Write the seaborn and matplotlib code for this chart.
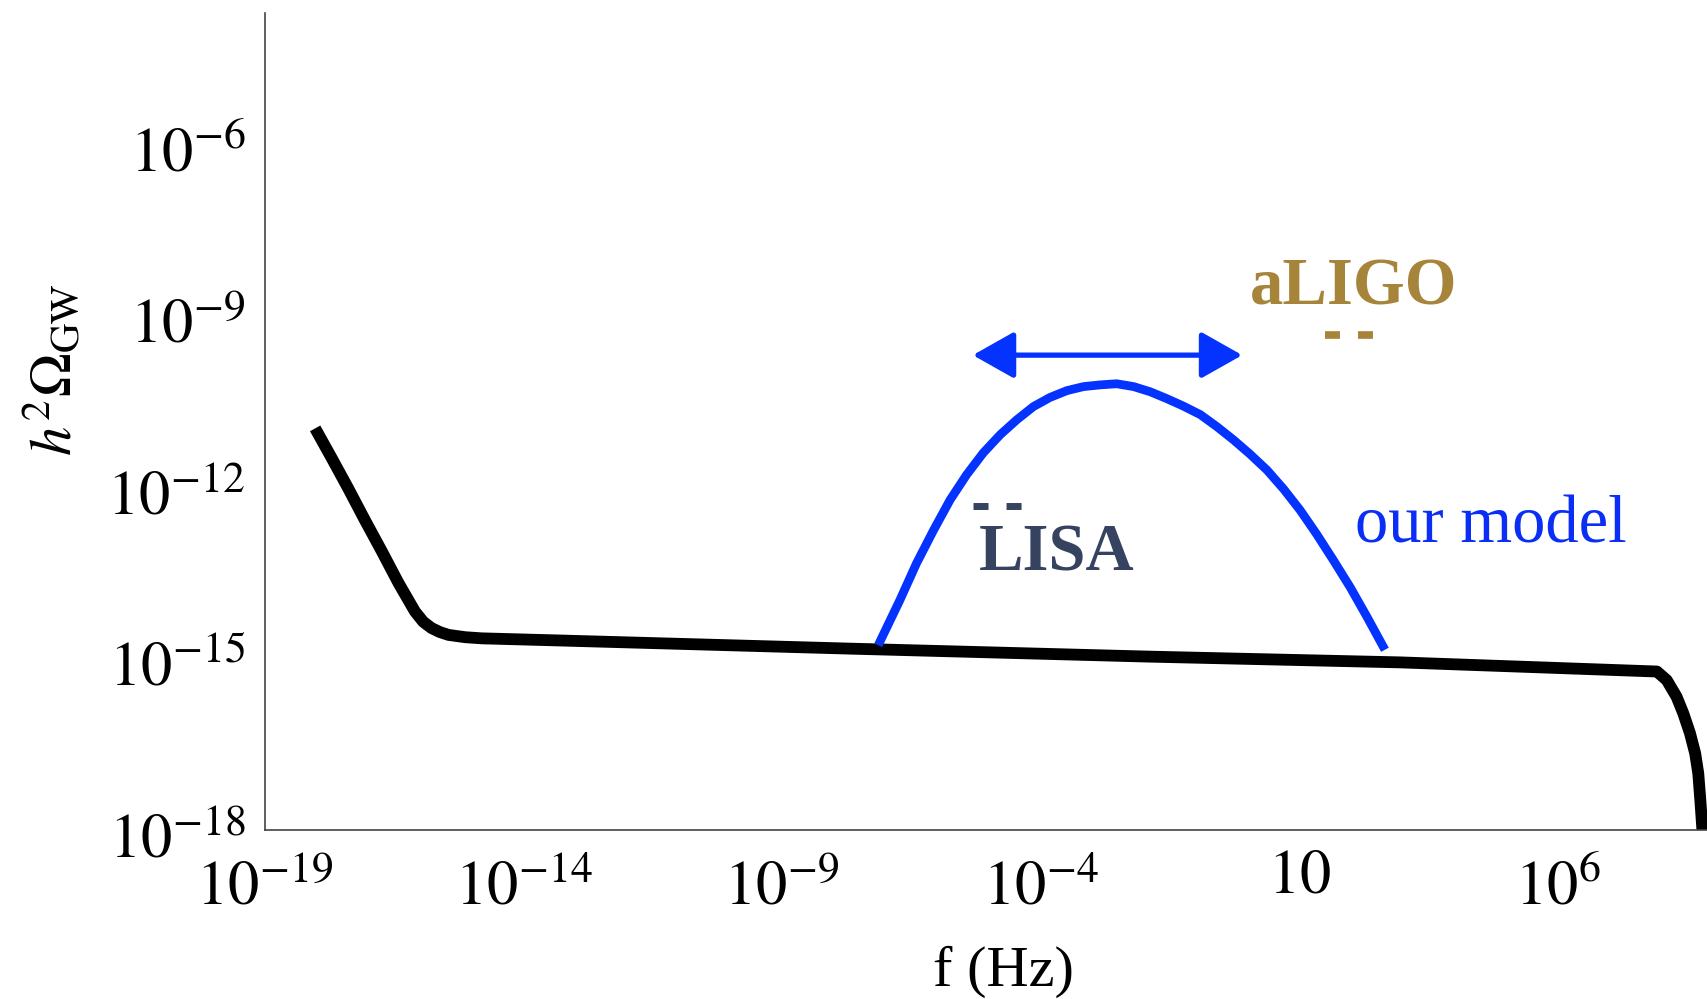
import numpy as np
import pandas as pd
import matplotlib
matplotlib.use("Agg")
import matplotlib.pyplot as plt
import matplotlib.transforms as mtransforms
import seaborn as sns
from matplotlib.ticker import FixedLocator, FixedFormatter, NullFormatter

# ---- data (log10 values) ----
bg_logf = [-18.03, -17.71, -17.39, -17.07, -16.74, -16.42, -16.10, -15.94, -15.78,
           -15.62, -15.45, -15.13, -14.81, -13.20, -7.68, -1.88, 2.95, 7.92,
           8.11, 8.30, 8.43, 8.56, 8.66, 8.72, 8.76, 8.80, 8.83]
bg_logomega = [-10.98, -11.50, -12.03, -12.58, -13.13, -13.68, -14.18, -14.36, -14.47,
               -14.54, -14.59, -14.63, -14.65, -14.69, -14.83, -14.97, -15.07, -15.23,
               -15.38, -15.67, -15.96, -16.31, -16.66, -17.01, -17.48, -18.0, -18.3]

model_logf = [-7.14, -6.72, -6.40, -6.07, -5.75, -5.43, -5.11, -4.78, -4.46, -4.14,
              -3.82, -3.49, -3.17, -2.85, -2.53, -2.20, -1.88, -1.56, -1.24, -0.91,
              -0.59, -0.27, 0.05, 0.38, 0.70, 1.02, 1.34, 1.66, 1.99, 2.31, 2.66]
model_logomega = [-14.77, -13.98, -13.34, -12.76, -12.23, -11.79, -11.41, -11.09, -10.83,
                  -10.60, -10.44, -10.32, -10.25, -10.22, -10.20, -10.25, -10.34, -10.46,
                  -10.59, -10.74, -10.95, -11.18, -11.43, -11.71, -12.04, -12.41, -12.83,
                  -13.28, -13.76, -14.27, -14.85]

x_major_exp = [-19, -14, -9, -4, 1, 6]
x_tick_labels = [r"$10^{-19}$", r"$10^{-14}$", r"$10^{-9}$", r"$10^{-4}$", r"$10$", r"$10^{6}$"]
y_major_exp = [-18, -15, -12, -9, -6]
y_tick_labels = [r"$10^{-18}$", r"$10^{-15}$", r"$10^{-12}$", r"$10^{-9}$", r"$10^{-6}$"]

# ---- style ----
sns.set_theme(style="white")
plt.rcParams['font.family'] = ['Liberation Serif', 'DejaVu Serif']
plt.rcParams['mathtext.fontset'] = 'stix'

fig = plt.figure(figsize=(17.08, 9.99), dpi=100)
fig.patch.set_facecolor("white")
ax = fig.add_axes([0.15515, 0.16917, 0.8443, 0.8178])
ax.set_facecolor("white")

bg = pd.DataFrame({"f": 10.0 ** np.array(bg_logf), "omega": 10.0 ** np.array(bg_logomega)})
model = pd.DataFrame({"f": 10.0 ** np.array(model_logf), "omega": 10.0 ** np.array(model_logomega)})

sns.lineplot(data=bg, x="f", y="omega", sort=False, estimator=None, color="black", ax=ax)
sns.lineplot(data=model, x="f", y="omega", sort=False, estimator=None, color="#0433FF", ax=ax)
for ln, lw in zip(ax.lines, [8.5, 6.3]):
    ln.set_linewidth(lw)
    ln.set_solid_capstyle("butt")
    ln.set_solid_joinstyle("round")

ax.set_xscale("log")
ax.set_yscale("log")
ax.set_xlim(1e-19, 10 ** 8.89)
ax.set_ylim(1e-18, 10 ** -3.72)

# arrow
ax.annotate("", xy=(10 ** -0.10, 10 ** -9.70), xytext=(10 ** -5.31, 10 ** -9.70),
            arrowprops=dict(arrowstyle="<|-|>,head_length=0.85,head_width=0.48",
                            mutation_scale=30, color="#0433FF", lw=3.8,
                            shrinkA=0, shrinkB=0))

# detector marks
lisa_col = "#354260"
ligo_col = "#A6843A"
ax.plot([10 ** -5.31, 10 ** -4.36], [10 ** -12.33] * 2, color=lisa_col, lw=5,
        dashes=(2.16, 2.6), dash_capstyle="butt")
ax.plot([10 ** 1.50, 10 ** 2.43], [10 ** -9.35] * 2, color=ligo_col, lw=5.5,
        dashes=(1.96, 2.36), dash_capstyle="butt")

ax.text(10 ** -3.69, 10 ** -13.47, "LISA", ha="center", va="baseline", fontsize=48,
        fontweight="bold", color=lisa_col)
ax.text(10 ** 2.06, 10 ** -8.82, "aLIGO", ha="center", va="baseline", fontsize=48,
        fontweight="bold", color=ligo_col)
ax.text(10 ** 2.08, 10 ** -12.98, "our model", ha="left", va="baseline", fontsize=48,
        color="#0A2EF5")

# ticks
ax.xaxis.set_major_locator(FixedLocator(10.0 ** np.array(x_major_exp)))
ax.xaxis.set_major_formatter(FixedFormatter(x_tick_labels))
ax.xaxis.set_minor_locator(FixedLocator([k * 10.0 ** (m - 1) for m in x_major_exp[1:] for k in range(2, 10)]))
ax.xaxis.set_minor_formatter(NullFormatter())
ax.yaxis.set_major_locator(FixedLocator(10.0 ** np.array(y_major_exp)))
ax.yaxis.set_major_formatter(FixedFormatter(y_tick_labels))
ax.yaxis.set_minor_locator(FixedLocator([k * 10.0 ** (m - 1) for m in y_major_exp[1:] for k in range(2, 10)] + [1e-4]))
ax.yaxis.set_minor_formatter(NullFormatter())

spine_col = "#444444"
ax.tick_params(axis="both", which="major", direction="in", length=9, width=1.2,
               color=spine_col, labelsize=45, labelcolor="black")
ax.tick_params(axis="both", which="minor", direction="in", length=4.5, width=1.0,
               color=spine_col)
ax.tick_params(axis="x", which="major", pad=22)
ax.tick_params(axis="y", which="major", pad=14)

# the plain "10" label sits higher, as in the reference
xt = ax.xaxis.get_major_ticks()
lab = xt[4].label1
lab.set_transform(lab.get_transform() + mtransforms.ScaledTranslation(0, 9 / 72, fig.dpi_scale_trans))
# y labels slightly lower
for t in ax.yaxis.get_major_ticks():
    t.label1.set_transform(t.label1.get_transform() + mtransforms.ScaledTranslation(0, -4 / 72, fig.dpi_scale_trans))

sns.despine(ax=ax)
for s in ["left", "bottom"]:
    ax.spines[s].set_color(spine_col)
    ax.spines[s].set_linewidth(1.2)

ax.set_xlabel("f (Hz)", fontsize=42, color="black")
ax.xaxis.label.set_va("center")
ax.xaxis.set_label_coords(0.512, -0.174)
ax.set_ylabel(r"$h^2\Omega_{\mathrm{GW}}$", fontsize=42, color="black")
ax.yaxis.label.set_va("center")
ax.yaxis.set_label_coords(-0.147, 0.563)

fig.savefig("out.png", dpi=100, facecolor="white")
